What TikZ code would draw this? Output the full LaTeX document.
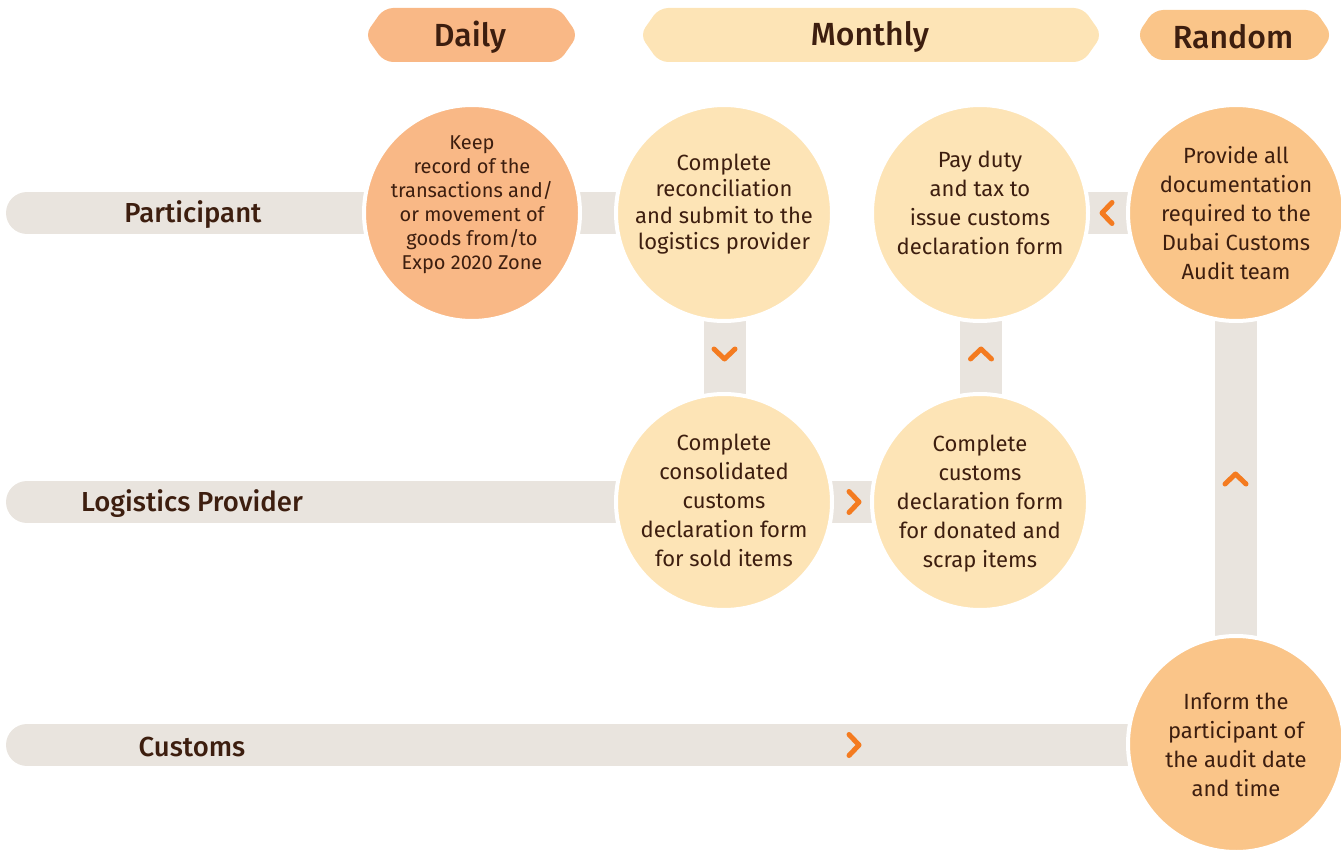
\documentclass[tikz,border=0pt]{standalone}
\usepackage{fontspec}
\setmainfont{Fira Sans}[BoldFont={Fira Sans Medium}]
\usetikzlibrary{backgrounds,calc}
\definecolor{barc}{HTML}{E9E4DE}
\definecolor{dailyc}{HTML}{F9B886}
\definecolor{creamc}{HTML}{FDE4B6}
\definecolor{randc}{HTML}{FAC589}
\definecolor{orangec}{HTML}{F47B20}
\definecolor{txtc}{HTML}{3D1E0F}
\tikzset{
  circ/.style={circle, draw=white, line width=4pt, minimum size=216pt, inner sep=0pt,
    align=center, text=txtc, font=\fontsize{22}{29}\selectfont},
  lanebar/.style={draw=barc, line width=42pt, line cap=round},
  linkbar/.style={draw=barc, line width=42pt},
  lanelabel/.style={text=txtc, font=\bfseries\fontsize{27.5}{30}\selectfont},
  taglabel/.style={text=txtc, font=\bfseries\fontsize{32}{36}\selectfont},
  chevline/.style={draw=orangec, line width=5pt, line cap=round, line join=round},
  chev/.pic={\draw[chevline] (-5,-10.5) -- (5,0) -- (-5,10.5);}
}
\begin{document}
\begin{tikzpicture}[x=1pt,y=-1pt]
\useasboundingbox (0,0) rectangle (1341,850);
% tags
\fill[dailyc, rounded corners=9pt] (365,35) -- (384,8) -- (559,8) -- (578,35) -- (559,62) -- (384,62) -- cycle;
\node[taglabel] (tdaily) at (470,37) {Daily};
\fill[creamc, rounded corners=9pt] (640,35) -- (659,8) -- (1083,8) -- (1102,35) -- (1083,62) -- (659,62) -- cycle;
\node[taglabel] (tmonthly) at (870,37) {Monthly};
\fill[randc, rounded corners=9pt] (1137,35) -- (1154,10) -- (1315,10) -- (1332,35) -- (1315,60) -- (1154,60) -- cycle;
\node[taglabel] (trandom) at (1233,37) {Random};
% circles
\node[circ, fill=dailyc] (keep) at (472,213) {};
\node[align=center, text=txtc, font=\fontsize{20}{24}\selectfont] (keeptxt) at (472,205) {Keep\\record of the\\transactions and/\\or movement of\\goods from/to\\Expo 2020 Zone};
\node[circ, fill=creamc] (rec) at (724,213) {};
\node[align=center, text=txtc, font=\fontsize{22}{26.5}\selectfont] (rectxt) at (724,204) {Complete\\reconciliation\\and submit to the\\logistics provider};
\node[circ, fill=creamc] (pay) at (980,213) {};
\node[align=center, text=txtc, font=\fontsize{22}{29}\selectfont] (paytxt) at (980,203) {Pay duty\\and tax to\\issue customs\\declaration form};
\node[circ, fill=randc] (prov) at (1236,213) {Provide all\\documentation\\required to the\\Dubai Customs\\Audit team};
\node[circ, fill=creamc] (cons) at (724,502) {};
\node[align=center, text=txtc, font=\fontsize{22}{29}\selectfont] (constxt) at (724,500) {Complete\\consolidated\\customs\\declaration form\\for sold items};
\node[circ, fill=creamc] (decl) at (980,502) {};
\node[align=center, text=txtc, font=\fontsize{22}{29}\selectfont] (decltxt) at (980,504) {Complete\\customs\\declaration form\\for donated and\\scrap items};
\node[circ, fill=randc] (inf) at (1236,744) {};
\node[align=center, text=txtc, font=\fontsize{22}{29}\selectfont] (inftxt) at (1236,745) {Inform the\\participant of\\the audit date\\and time};
% lane starts
\coordinate (pstart) at (27,213);
\coordinate (lstart) at (27,502);
\coordinate (cstart) at (27,745);
\coordinate (cend) at (1236,745);
\begin{scope}[on background layer]
\draw[lanebar] (pstart) -- (keep.center);
\draw[lanebar] (lstart) -- (cons.center);
\draw[lanebar] (cstart) -- (cend);
\draw[linkbar] (keep.center) -- (rec.center);
\draw[linkbar] (pay.center) -- (prov.center);
\draw[linkbar] (cons.center) -- (decl.center);
\draw[linkbar] ([xshift=0.5pt]rec.center) -- ([xshift=0.5pt]cons.center);
\draw[linkbar] ([xshift=1pt]decl.center) -- ([xshift=1pt]pay.center);
\draw[linkbar] (inf.center) -- (prov.center);
\end{scope}
% lane labels
\node[lanelabel] (lpart) at (193,215) {Participant};
\node[lanelabel] (llog) at (192,504) {Logistics Provider};
\node[lanelabel] (lcust) at (192,747) {Customs};
% chevrons
\pic[rotate=-90] at (724.5,354) {chev};
\pic[rotate=90] at (981,354) {chev};
\pic[rotate=180] at (1107,213) {chev};
\pic at (854,502) {chev};
\pic[rotate=90] at (1235.5,479) {chev};
\pic at (854,745) {chev};
\end{tikzpicture}
\end{document}
